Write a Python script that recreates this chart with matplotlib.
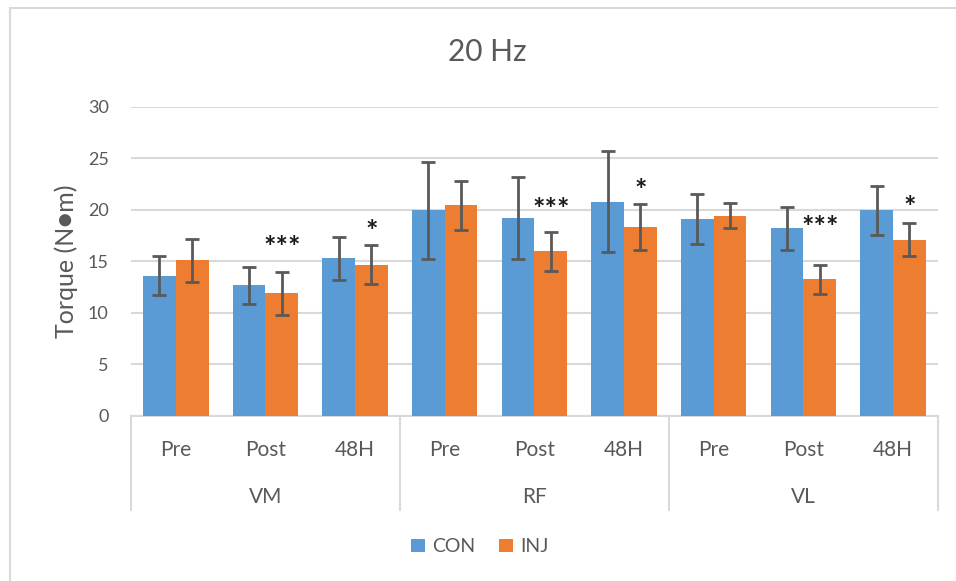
import numpy as np
import matplotlib
matplotlib.use("Agg")
import matplotlib.pyplot as plt
from matplotlib.patches import Rectangle
from matplotlib.transforms import blended_transform_factory

plt.rcParams["font.family"] = ["Lato", "DejaVu Sans"]

# Torque at 20 Hz, per muscle and time point
muscles = ["VM", "RF", "VL"]
times = ["Pre", "Post", "48H"]
con_mean = [13.6, 12.7, 15.3, 19.95, 19.2, 20.8, 19.1, 18.2, 19.95]
con_err = [1.9, 1.8, 2.1, 4.7, 4.0, 4.9, 2.4, 2.05, 2.35]
inj_mean = [15.1, 11.9, 14.7, 20.45, 16.0, 18.35, 19.45, 13.25, 17.1]
inj_err = [2.1, 2.1, 1.9, 2.4, 1.9, 2.25, 1.2, 1.45, 1.6]
# significance marks above the INJ bars and their heights
marks = ["", "***", "*", "", "***", "*", "", "***", "*"]
mark_y = [0, 16.8, 18.4, 0, 20.5, 22.4, 0, 18.8, 20.7]

BLUE = "#5B9BD5"
ORANGE = "#ED7D31"
GRID = "#D9D9D9"
TXT = "#595959"

fig = plt.figure(figsize=(9.56, 5.81), dpi=100)
ax = fig.add_axes([0.137, 0.284, 0.844, 0.532])

x = np.arange(len(con_mean))
w = 0.365
ebar = dict(ecolor="#595959", elinewidth=2, capsize=5, capthick=2)
ax.bar(x - w / 2, con_mean, w, color=BLUE, yerr=con_err, error_kw=ebar,
       label="CON", zorder=3)
ax.bar(x + w / 2, inj_mean, w, color=ORANGE, yerr=inj_err, error_kw=ebar,
       label="INJ", zorder=3)

for i, m in enumerate(marks):
    if m:
        ax.annotate(m, (x[i] + w / 2, mark_y[i]), xytext=(0, -4),
                    textcoords="offset points", ha="center", va="center",
                    fontsize=21, fontweight="bold", color="#1a1a1a", zorder=4)

ax.set_xlim(-0.5, len(x) - 0.5)
ax.set_ylim(0, 30)
ax.set_yticks(range(0, 31, 5))
ax.yaxis.grid(True, color=GRID, linewidth=1.5, zorder=0)
ax.tick_params(axis="y", length=0, pad=16, labelsize=13, labelcolor=TXT)
ax.set_xticks([])
for s in ["top", "right", "left"]:
    ax.spines[s].set_visible(False)
ax.spines["bottom"].set_color(GRID)
ax.spines["bottom"].set_linewidth(1.5)

# two-level category axis
tr = blended_transform_factory(ax.transData, ax.transAxes)
for i in x:
    ax.text(i, -0.11, times[i % 3], transform=tr, ha="center", va="center",
            fontsize=15, color=TXT)
for g, name in enumerate(muscles):
    ax.text(g * 3 + 1, -0.262, name, transform=tr, ha="center", va="center",
            fontsize=15, color=TXT)
for b in range(len(muscles) + 1):
    ax.plot([b * 3 - 0.5] * 2, [0, -0.304], transform=tr, color=GRID,
            linewidth=1.5, clip_on=False)

ax.set_ylabel("Torque (N●m)", fontsize=18, color=TXT)
ax.yaxis.set_label_coords(-0.066, 0.5)

fig.text(0.51, 0.91, "20 Hz", ha="center", va="center", fontsize=21.5,
         color=TXT)

fig.legend(loc="center", bbox_to_anchor=(0.502, 0.059), ncol=2, frameon=False,
           fontsize=14, handlelength=0.7, handleheight=0.7,
           handletextpad=0.4, columnspacing=1.2, labelcolor=TXT)

# chart area border
fig.patches.append(Rectangle((0.0105, -0.05), 1.2, 1.036, transform=fig.transFigure,
                             fill=False, edgecolor=GRID, linewidth=1.5))

fig.savefig("out.png", dpi=100, facecolor="white")
